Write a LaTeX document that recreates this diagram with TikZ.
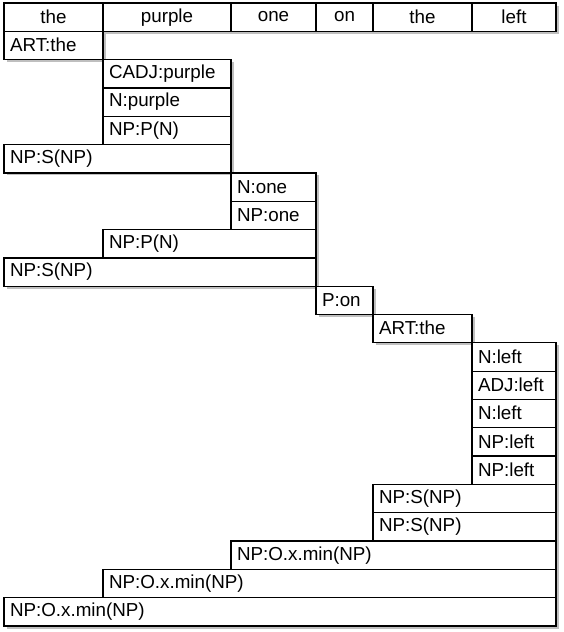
\documentclass[tikz,border=0pt]{standalone}
\usepackage{fontspec}
\setmainfont{Liberation Sans}
\usetikzlibrary{shadows}
\tikzset{
  cellst/.style={draw=black, line width=1.3pt, fill=white, anchor=north west,
    inner xsep=6pt, inner ysep=0pt, minimum height=28.32pt, outer sep=0pt,
    font=\fontsize{18.8}{22}\selectfont,
    drop shadow={shadow xshift=2.5pt, shadow yshift=-2.5pt, opacity=0.25, fill=black}}
}
\newcommand\cellbox[6]{%
  \pgfmathsetmacro\cw{#3-#2-12}%
  \pgfmathsetmacro\cy{3+28.32*#4}%
  \node[cellst, text width=\cw pt, align=#6] (#1) at (#2pt,-\cy pt) {\raisebox{1pt}{#5}};}
\begin{document}
\begin{tikzpicture}[x=1pt,y=1pt]
\useasboundingbox (0,0) rectangle (563,-632);
% header
\cellbox{h1}{4}{103}{0}{the}{center}
\cellbox{h2}{103}{231}{0}{purple}{center}
\cellbox{h3}{231}{316}{0}{one}{center}
\cellbox{h4}{316}{373}{0}{on}{center}
\cellbox{h5}{373}{472}{0}{the}{center}
\cellbox{h6}{472}{556}{0}{left}{center}
% chart
\cellbox{r1}{4}{103}{1}{ART:the}{left}
\cellbox{r2}{103}{231}{2}{CADJ:purple}{left}
\cellbox{r3}{103}{231}{3}{N:purple}{left}
\cellbox{r4}{103}{231}{4}{NP:P(N)}{left}
\cellbox{r5}{4}{231}{5}{NP:S(NP)}{left}
\cellbox{r6}{231}{316}{6}{N:one}{left}
\cellbox{r7}{231}{316}{7}{NP:one}{left}
\cellbox{r8}{103}{316}{8}{NP:P(N)}{left}
\cellbox{r9}{4}{316}{9}{NP:S(NP)}{left}
\cellbox{r10}{316}{373}{10}{P:on}{left}
\cellbox{r11}{373}{472}{11}{ART:the}{left}
\cellbox{r12}{472}{556}{12}{N:left}{left}
\cellbox{r13}{472}{556}{13}{ADJ:left}{left}
\cellbox{r14}{472}{556}{14}{N:left}{left}
\cellbox{r15}{472}{556}{15}{NP:left}{left}
\cellbox{r16}{472}{556}{16}{NP:left}{left}
\cellbox{r17}{373}{556}{17}{NP:S(NP)}{left}
\cellbox{r18}{373}{556}{18}{NP:S(NP)}{left}
\cellbox{r19}{231}{556}{19}{NP:O.x.min(NP)}{left}
\cellbox{r20}{103}{556}{20}{NP:O.x.min(NP)}{left}
\cellbox{r21}{4}{556}{21}{NP:O.x.min(NP)}{left}
\end{tikzpicture}
\end{document}
